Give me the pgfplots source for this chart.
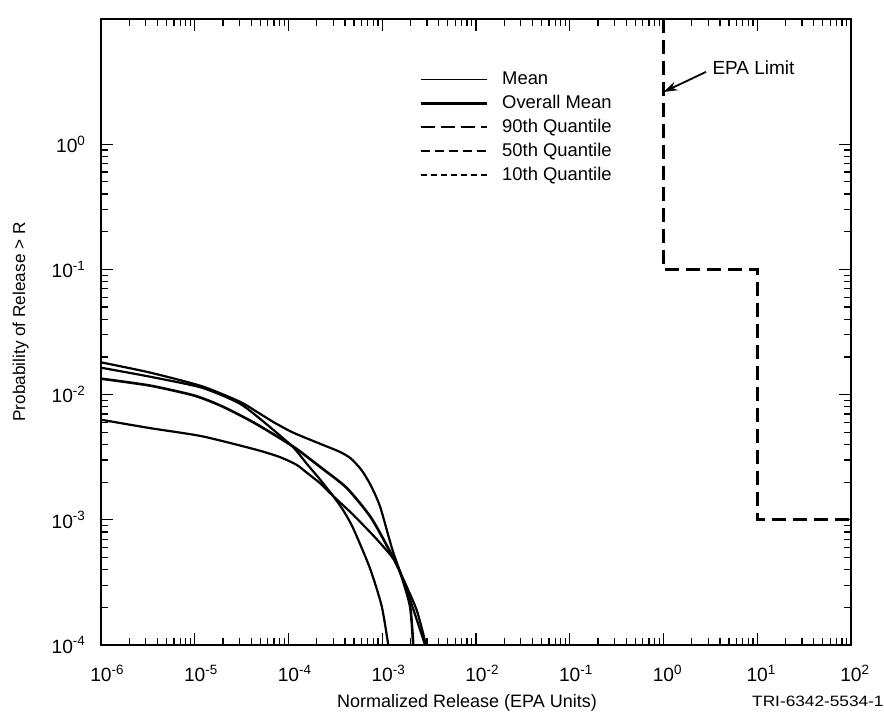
\documentclass[border=0pt]{standalone}
\usepackage{fontspec}
\setmainfont{Liberation Sans}
\usepackage{graphicx}
\usepackage{pgfplots}
\pgfplotsset{compat=1.18}
\usetikzlibrary{arrows.meta}
\begin{document}
\begin{tikzpicture}
\begin{axis}[
  xmode=log, ymode=log,
  scale only axis, width=375pt, height=313pt,
  xmin=1e-6, xmax=1e2, ymin=1e-4, ymax=10,
  axis line style={line width=1pt},
  tick style={line width=0.6pt, black},
  major tick length=6pt, minor tick length=3.5pt,
  tick align=inside,
  xtick={1e-6,1e-5,1e-4,1e-3,1e-2,1e-1,1,10,100},
  xticklabels={10\rlap{\textsuperscript{-6}},10\rlap{\textsuperscript{-5}},10\rlap{\textsuperscript{-4}},10\rlap{\textsuperscript{-3}},10\rlap{\textsuperscript{-2}},10\rlap{\textsuperscript{-1}},10\rlap{\textsuperscript{0}},10\rlap{\textsuperscript{1}},10\rlap{\textsuperscript{2}}},
  minor xtick={2e-6,3e-6,4e-6,5e-6,6e-6,7e-6,8e-6,9e-6,
               2e-5,3e-5,4e-5,5e-5,6e-5,7e-5,8e-5,9e-5,
               2e-4,3e-4,4e-4,5e-4,6e-4,7e-4,8e-4,9e-4,
               2e-3,3e-3,4e-3,5e-3,6e-3,7e-3,8e-3,9e-3,
               2e-2,3e-2,4e-2,5e-2,6e-2,7e-2,8e-2,9e-2,
               0.2,0.3,0.4,0.5,0.6,0.7,0.8,0.9,
               2,3,4,5,6,7,8,9,
               20,30,40,50,60,70,80,90},
  ytick={1e-4,1e-3,1e-2,1e-1,1},
  yticklabels={10\textsuperscript{-4},10\textsuperscript{-3},10\textsuperscript{-2},10\textsuperscript{-1},10\textsuperscript{0}},
  minor ytick={2e-4,3e-4,4e-4,5e-4,6e-4,7e-4,8e-4,9e-4,
               2e-3,3e-3,4e-3,5e-3,6e-3,7e-3,8e-3,9e-3,
               2e-2,3e-2,4e-2,5e-2,6e-2,7e-2,8e-2,9e-2,
               0.2,0.3,0.4,0.5,0.6,0.7,0.8,0.9},
  tick label style={font=\fontsize{9.6}{11}\selectfont},
  xticklabel style={yshift=-6.5pt},
  yticklabel style={xshift=-4pt},
  xlabel={Normalized Release (EPA Units)},
  ylabel={Probability of Release > R},
  xlabel style={font=\fontsize{9}{10}\selectfont, at={(axis description cs:0.488,-0.093)}, anchor=center},
  ylabel style={font=\fontsize{8.6}{10}\selectfont, at={(axis description cs:-0.107,0.516)}, anchor=center},
  legend style={at={(rel axis cs:0.416,0.925)}, anchor=north west, draw=none, fill=none,
    font=\fontsize{9.2}{11}\selectfont, row sep=3pt,
    nodes={inner sep=0pt, text height=7pt, text depth=2pt},
    /tikz/every odd column/.append style={column sep=7pt}},
  legend cell align=left,
  legend image code/.code={\draw[#1] (0pt,0pt) -- (33pt,0pt);},
  every axis plot/.append style={line width=1.1pt, black},
]
% curves (all drawn solid in the reference)
\addplot[smooth, tension=0.4, forget plot] coordinates {
(1e-6,0.0181) (3.33e-6,0.0150) (1.19e-5,0.01167) (3.04e-5,0.00877) (4.58e-5,0.00730) (7e-5,0.00600)
(1.12e-4,0.00497) (2.17e-4,0.00405) (3.5e-4,0.00350) (4.6e-4,0.00310) (6.0e-4,0.00250) (7.5e-4,0.00190) (9.5e-4,0.00127)
(1.30e-3,5.6e-4) (1.98e-3,2.31e-4) (2.86e-3,1e-4)};
\addplot[smooth, tension=0.4, forget plot] coordinates {
(1e-6,0.0164) (3.33e-6,0.0139) (1.19e-5,0.01135) (3.04e-5,0.00845) (6e-5,0.00570) (1.12e-4,0.00380)
(1.6e-4,0.00275) (2.17e-4,0.00210) (2.99e-4,0.00155) (3.81e-4,0.00120) (4.88e-4,8.6e-4) (7.40e-4,4.1e-4)
(9.87e-4,2.04e-4) (1.16e-3,1e-4)};
\addplot[smooth, tension=0.4, forget plot, line width=1.3pt] coordinates {
(1e-6,0.0134) (3.33e-6,0.0118) (1.0e-5,0.00980) (2e-5,0.00800) (4.4e-5,0.00590) (1.12e-4,0.00385)
(2.17e-4,0.00265) (4.17e-4,0.00180) (7.40e-4,0.00107) (1.11e-3,6.3e-4) (1.55e-3,3.8e-4)
(1.98e-3,2.04e-4) (2.14e-3,1e-4)};
\addplot[smooth, tension=0.4, forget plot] coordinates {
(1e-6,0.0063) (3.33e-6,0.00540) (1.19e-5,0.00465) (4.4e-5,0.00365) (8e-5,0.00318) (1.22e-4,0.00275)
(1.6e-4,0.00235) (2.17e-4,0.00196) (2.99e-4,0.00155) (4.88e-4,0.00110) (8.73e-4,7.0e-4) (1.31e-3,4.9e-4)
(1.61e-3,3.6e-4) (2.33e-3,1.9e-4) (2.93e-3,1e-4)};
% EPA limit
\addplot[forget plot, line width=1.3pt, dash pattern=on 7pt off 3.5pt] coordinates {
(1,10) (1,0.1) (10,0.1) (10,0.001) (100,0.001)};
% legend
\addlegendimage{line width=0.8pt}
\addlegendentry{Mean}
\addlegendimage{line width=1.4pt}
\addlegendentry{Overall Mean}
\addlegendimage{line width=1pt, dash pattern=on 7pt off 3pt}
\addlegendentry{90th Quantile}
\addlegendimage{line width=1pt, dash pattern=on 4.5pt off 2.5pt}
\addlegendentry{50th Quantile}
\addlegendimage{line width=1pt, dash pattern=on 3pt off 2pt}
\addlegendentry{10th Quantile}
\node[anchor=west, font=\fontsize{9.5}{11}\selectfont, inner sep=0pt] at (axis cs:3.3,4.06) {EPA Limit};
\draw[-{Stealth[length=7pt,width=4.5pt]}, line width=0.9pt] (axis cs:2.84,3.78) -- (axis cs:1.0,2.61);
\end{axis}
\node[anchor=east, font=\fontsize{7.5}{9}\selectfont, inner sep=0pt] at ([shift={(16.5pt,-28pt)}]current axis.south east) {\scalebox{1.15}[1]{TRI-6342-5534-1}};
\pgfresetboundingbox
\path[use as bounding box] ([shift={(-50.5pt,-38pt)}]current axis.south west) rectangle ([shift={(16.5pt,9.5pt)}]current axis.north east);
\end{tikzpicture}
\end{document}
